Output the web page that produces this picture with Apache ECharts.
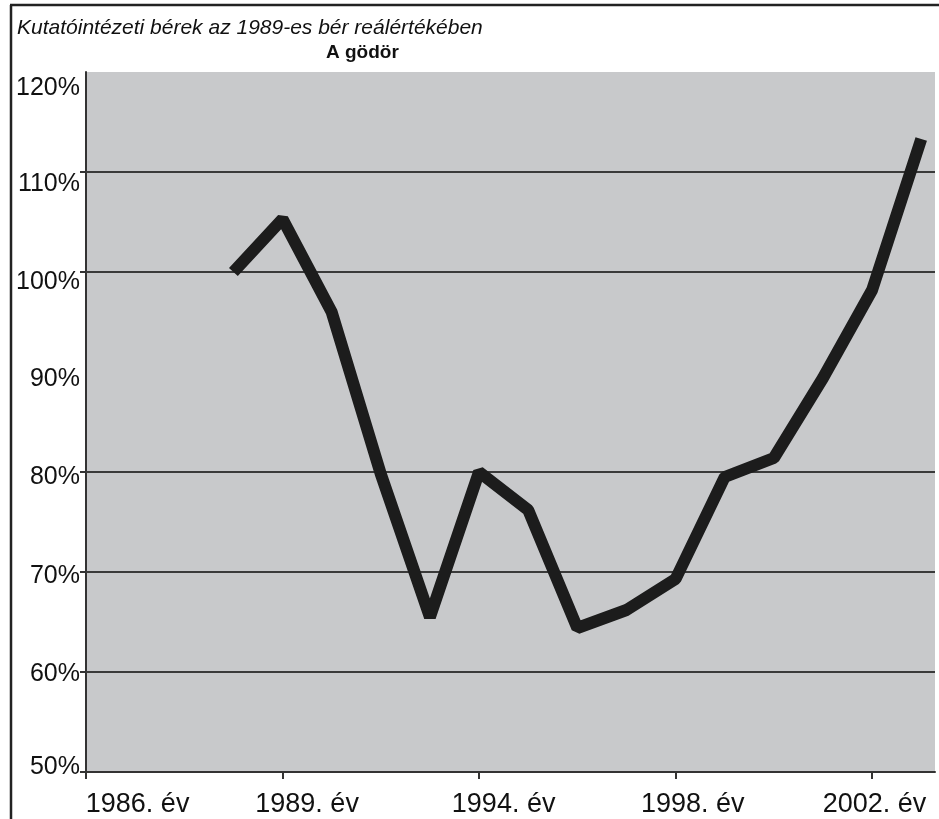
<!DOCTYPE html>
<html>
<head>
<meta charset="utf-8">
<script src="https://cdn.jsdelivr.net/npm/echarts@6/dist/echarts.min.js"></script>
<style>
html,body{margin:0;padding:0;background:#fff;}
#c{width:939px;height:819px;}
</style>
</head>
<body>
<div id="c"></div>
<script>
// category slot index of each observation (x) and value in % (y)
const slotIndex = [3, 4, 5, 6, 7, 8, 9, 10, 11, 12, 13, 14, 15, 16, 17];
const values = [100, 105.3, 96, 79.8, 65.5, 80, 76.2, 64.4, 66.2, 69.3, 79.5, 81.4, 89.4, 98.2, 113.3];

// x tick labels and where they sit (slot units)
const xLabelText = ['1986. év', '1989. év', '1994. év', '1998. év', '2002. év'];
const xLabelPos = [1.05, 4.5, 8.5, 12.35, 16.05];
const xTickPos = [0, 4, 8, 12, 16];

// y tick labels and where they sit (%)
const yLabelText = ['50%', '60%', '70%', '80%', '90%', '100%', '110%', '120%'];
const yLabelPos = [50.5, 59.8, 69.6, 79.5, 89.3, 99, 108.8, 118.4];
const yTickPos = [50, 60, 70, 80, 100, 110];
const yGridLines = [60, 70, 80, 100, 110];

function nearestLabel(v, pos, text) {
  let best = 0;
  for (let i = 1; i < pos.length; i++) {
    if (Math.abs(pos[i] - v) < Math.abs(pos[best] - v)) best = i;
  }
  return text[best];
}

const chart = echarts.init(document.getElementById('c'), null, {renderer: 'canvas'});
const FONT = '"Liberation Sans", Arial, Helvetica, sans-serif';

chart.setOption({
  backgroundColor: '#ffffff',
  animation: false,
  title: [
    {
      text: 'Kutatóintézeti bérek az 1989-es bér reálértékében',
      left: 12, top: 13,
      textStyle: {fontFamily: FONT, fontStyle: 'italic', fontWeight: 'normal', fontSize: 21, color: '#111'}
    },
    {
      text: 'A gödör',
      left: 321, top: 38,
      textStyle: {fontFamily: FONT, fontWeight: 'bold', fontSize: 19, color: '#111'}
    }
  ],
  graphic: [
    {type: 'line', shape: {x1: 10, y1: 5, x2: 939, y2: 5}, style: {stroke: '#222', lineWidth: 2.5}},
    {type: 'line', shape: {x1: 11, y1: 5, x2: 11, y2: 819}, style: {stroke: '#222', lineWidth: 2.5}}
  ],
  grid: {
    left: 86, top: 72, right: 4, bottom: 47,
    show: true, backgroundColor: '#c8c9cb', borderWidth: 0
  },
  xAxis: {
    type: 'value',
    min: 0, max: 17.28,
    axisLine: {show: true, lineStyle: {color: '#333', width: 2}},
    axisTick: {show: true, customValues: xTickPos, length: 7, lineStyle: {color: '#333', width: 2}},
    splitLine: {show: false},
    axisLabel: {
      customValues: xLabelPos,
      margin: 19,
      fontFamily: FONT, fontSize: 27, color: '#111',
      formatter: function (v) { return nearestLabel(v, xLabelPos, xLabelText); }
    }
  },
  yAxis: {
    type: 'value',
    min: 50, max: 120, interval: 10,
    axisLine: {show: true, lineStyle: {color: '#333', width: 2}},
    axisTick: {show: true, customValues: yTickPos, length: 6, lineStyle: {color: '#333', width: 2}},
    splitLine: {show: false},
    axisLabel: {
      customValues: yLabelPos,
      margin: 6,
      fontFamily: FONT, fontSize: 25, color: '#111',
      formatter: function (v) { return nearestLabel(v, yLabelPos, yLabelText); }
    }
  },
  series: [
    {
      type: 'line',
      data: slotIndex.map((x, i) => [x, values[i]]),
      symbol: 'none',
      lineStyle: {color: '#1c1c1c', width: 12, join: 'bevel', cap: 'butt'},
      z: 5,
      markLine: {
        silent: true,
        symbol: 'none',
        label: {show: false},
        lineStyle: {color: '#3a3a3a', width: 2, type: 'solid'},
        data: yGridLines.map(v => ({yAxis: v})),
        z: 1
      }
    }
  ]
});
</script>
</body>
</html>
